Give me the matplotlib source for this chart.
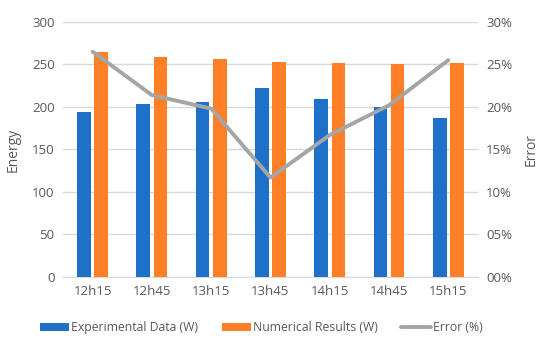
import matplotlib
matplotlib.use("Agg")
import matplotlib.pyplot as plt
import numpy as np
from matplotlib.ticker import FuncFormatter

categories = ["12h15", "12h45", "13h15", "13h45", "14h15", "14h45", "15h15"]
experimental = [194.5, 203.5, 205.5, 222.5, 209, 200.5, 187.5]
numerical = [264.5, 259, 256, 252.5, 252, 251, 251.5]
error_pct = [26.5, 21.4, 19.8, 11.7, 16.7, 20.2, 25.5]

blue = "#1f70c8"
orange = "#ff7f27"
gray = "#a5a5a5"
txt = "#595959"

plt.rcParams['font.family'] = ['Open Sans', 'DejaVu Sans']

fig = plt.figure(figsize=(5.5, 3.48), dpi=100)
ax = fig.add_axes([0.1145, 0.204, 0.7545, 0.733])
x = np.arange(len(categories))
w = 0.23
off = 0.145
b1 = ax.bar(x - off, experimental, w, color=blue, zorder=3, label="Experimental Data (W)")
b2 = ax.bar(x + off, numerical, w, color=orange, zorder=3, label="Numerical Results (W)")
ax.set_xlim(-0.5, len(categories) - 0.5)
ax.set_ylim(0, 300)
ax.set_yticks(range(0, 301, 50))
ax.yaxis.grid(True, color="#d9d9d9", linewidth=1, zorder=0)
ax.set_axisbelow(True)
for s in ["top", "right", "left"]:
    ax.spines[s].set_visible(False)
ax.spines["bottom"].set_color("#d9d9d9")
ax.tick_params(axis="both", length=0, colors=txt, labelsize=9.5, pad=6)
ax.set_xticks(x)
ax.set_xticklabels(categories)
ax.set_ylabel("Energy", color=txt, fontsize=10, labelpad=8)

ax2 = ax.twinx()
ln, = ax2.plot(x, error_pct, color=gray, linewidth=2.8, zorder=4, label="Error (%)",
               solid_capstyle="round")
ax2.set_ylim(0, 30)
ax2.set_yticks(range(0, 31, 5))
ax2.yaxis.set_major_formatter(FuncFormatter(lambda v, p: f"{int(v):02d}%"))
for s in ["top", "right", "left", "bottom"]:
    ax2.spines[s].set_visible(False)
ax2.tick_params(axis="both", length=0, colors=txt, labelsize=9.5, pad=6)
ax2.set_ylabel("Error", color=txt, fontsize=10, labelpad=8)

fig.legend([b1, b2, ln], ["Experimental Data (W)", "Numerical Results (W)", "Error (%)"],
           loc="center", bbox_to_anchor=(0.475, 0.058), ncol=3, frameon=False,
           fontsize=8.8, labelcolor=txt, handlelength=2.4, handleheight=0.55,
           columnspacing=1.9, handletextpad=0.2)

fig.savefig("out.png", dpi=100)
